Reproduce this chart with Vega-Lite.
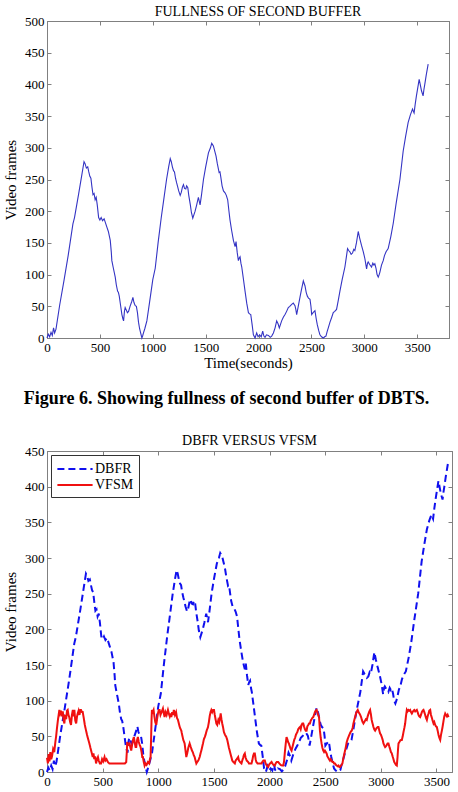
{
  "$schema": "https://vega.github.io/schema/vega-lite/v6.json",
  "background": "white",
  "padding": {"left": 3, "top": 4, "right": 0, "bottom": 0},
  "spacing": 25,
  "resolve": {
    "scale": {"color": "independent", "strokeDash": "independent"},
    "legend": {"color": "independent", "strokeDash": "independent"}
  },
  "config": {
    "font": "Liberation Serif",
    "view": {"stroke": "#808080", "strokeWidth": 1},
    "axis": {
      "domainColor": "#808080",
      "tickColor": "#808080",
      "tickSize": -4,
      "labelPadding": 7,
      "labelFont": "Liberation Serif",
      "labelFontSize": 13,
      "labelColor": "#000000",
      "labelFlush": false,
      "titleFont": "Liberation Serif",
      "titleFontSize": 15,
      "titleFontWeight": "normal",
      "titleColor": "#000000",
      "grid": false
    },
    "axisX": {"titlePadding": 1, "format": "d"},
    "axisY": {"titlePadding": 6},
    "title": {"font": "Liberation Serif", "fontWeight": "normal", "color": "#000000"},
    "legend": {
      "orient": "top-left",
      "offset": 4,
      "padding": 5,
      "strokeColor": "#333333",
      "fillColor": "#ffffff",
      "labelFont": "Liberation Serif",
      "labelFontSize": 14,
      "labelColor": "#000000",
      "symbolType": "M-2.2,0H2.2",
      "symbolSize": 256,
      "symbolStrokeWidth": 2,
      "symbolOffset": 10,
      "labelOffset": 11,
      "rowPadding": 0
    }
  },
  "datasets": {
    "buffer": [
      {"series": "DBFR", "t": 0, "v": 0}, {"series": "DBFR", "t": 12, "v": 6}, {"series": "DBFR", "t": 25, "v": 2}, {"series": "DBFR", "t": 38, "v": 9}, {"series": "DBFR", "t": 50, "v": 4}, {"series": "DBFR", "t": 62, "v": 16}, {"series": "DBFR", "t": 72, "v": 8}, {"series": "DBFR", "t": 85, "v": 14},
      {"series": "DBFR", "t": 120, "v": 52}, {"series": "DBFR", "t": 160, "v": 90}, {"series": "DBFR", "t": 200, "v": 130}, {"series": "DBFR", "t": 245, "v": 180}, {"series": "DBFR", "t": 260, "v": 190}, {"series": "DBFR", "t": 300, "v": 228}, {"series": "DBFR", "t": 330, "v": 258}, {"series": "DBFR", "t": 350, "v": 278},
      {"series": "DBFR", "t": 360, "v": 275}, {"series": "DBFR", "t": 372, "v": 268}, {"series": "DBFR", "t": 385, "v": 270}, {"series": "DBFR", "t": 395, "v": 262}, {"series": "DBFR", "t": 405, "v": 255}, {"series": "DBFR", "t": 415, "v": 252}, {"series": "DBFR", "t": 425, "v": 238}, {"series": "DBFR", "t": 435, "v": 226},
      {"series": "DBFR", "t": 445, "v": 228}, {"series": "DBFR", "t": 455, "v": 218}, {"series": "DBFR", "t": 465, "v": 222}, {"series": "DBFR", "t": 475, "v": 210}, {"series": "DBFR", "t": 488, "v": 190}, {"series": "DBFR", "t": 500, "v": 186}, {"series": "DBFR", "t": 512, "v": 190}, {"series": "DBFR", "t": 525, "v": 185},
      {"series": "DBFR", "t": 540, "v": 188}, {"series": "DBFR", "t": 552, "v": 182}, {"series": "DBFR", "t": 566, "v": 175}, {"series": "DBFR", "t": 580, "v": 168}, {"series": "DBFR", "t": 598, "v": 154}, {"series": "DBFR", "t": 608, "v": 135}, {"series": "DBFR", "t": 613, "v": 122}, {"series": "DBFR", "t": 625, "v": 112},
      {"series": "DBFR", "t": 645, "v": 96}, {"series": "DBFR", "t": 655, "v": 84}, {"series": "DBFR", "t": 667, "v": 74}, {"series": "DBFR", "t": 675, "v": 72}, {"series": "DBFR", "t": 683, "v": 66}, {"series": "DBFR", "t": 695, "v": 52}, {"series": "DBFR", "t": 708, "v": 37}, {"series": "DBFR", "t": 718, "v": 30},
      {"series": "DBFR", "t": 724, "v": 27}, {"series": "DBFR", "t": 732, "v": 42}, {"series": "DBFR", "t": 739, "v": 48}, {"series": "DBFR", "t": 750, "v": 44}, {"series": "DBFR", "t": 760, "v": 40}, {"series": "DBFR", "t": 771, "v": 42}, {"series": "DBFR", "t": 785, "v": 50}, {"series": "DBFR", "t": 802, "v": 58},
      {"series": "DBFR", "t": 812, "v": 64}, {"series": "DBFR", "t": 822, "v": 56}, {"series": "DBFR", "t": 834, "v": 51}, {"series": "DBFR", "t": 845, "v": 50}, {"series": "DBFR", "t": 855, "v": 40}, {"series": "DBFR", "t": 865, "v": 25}, {"series": "DBFR", "t": 875, "v": 15}, {"series": "DBFR", "t": 885, "v": 8},
      {"series": "DBFR", "t": 897, "v": 0}, {"series": "DBFR", "t": 905, "v": 4}, {"series": "DBFR", "t": 912, "v": 8}, {"series": "DBFR", "t": 925, "v": 15}, {"series": "DBFR", "t": 944, "v": 27}, {"series": "DBFR", "t": 970, "v": 57}, {"series": "DBFR", "t": 1000, "v": 92}, {"series": "DBFR", "t": 1023, "v": 110},
      {"series": "DBFR", "t": 1050, "v": 150}, {"series": "DBFR", "t": 1080, "v": 190}, {"series": "DBFR", "t": 1101, "v": 215}, {"series": "DBFR", "t": 1130, "v": 250}, {"series": "DBFR", "t": 1150, "v": 270}, {"series": "DBFR", "t": 1165, "v": 283}, {"series": "DBFR", "t": 1175, "v": 278}, {"series": "DBFR", "t": 1185, "v": 270},
      {"series": "DBFR", "t": 1196, "v": 264}, {"series": "DBFR", "t": 1205, "v": 262}, {"series": "DBFR", "t": 1215, "v": 252}, {"series": "DBFR", "t": 1225, "v": 245}, {"series": "DBFR", "t": 1233, "v": 240}, {"series": "DBFR", "t": 1245, "v": 232}, {"series": "DBFR", "t": 1259, "v": 225}, {"series": "DBFR", "t": 1270, "v": 230},
      {"series": "DBFR", "t": 1280, "v": 238}, {"series": "DBFR", "t": 1290, "v": 242}, {"series": "DBFR", "t": 1300, "v": 236}, {"series": "DBFR", "t": 1312, "v": 235}, {"series": "DBFR", "t": 1320, "v": 240}, {"series": "DBFR", "t": 1331, "v": 237}, {"series": "DBFR", "t": 1340, "v": 225}, {"series": "DBFR", "t": 1355, "v": 210},
      {"series": "DBFR", "t": 1365, "v": 198}, {"series": "DBFR", "t": 1378, "v": 189}, {"series": "DBFR", "t": 1390, "v": 195}, {"series": "DBFR", "t": 1400, "v": 200}, {"series": "DBFR", "t": 1415, "v": 210}, {"series": "DBFR", "t": 1431, "v": 222}, {"series": "DBFR", "t": 1440, "v": 215}, {"series": "DBFR", "t": 1447, "v": 210},
      {"series": "DBFR", "t": 1460, "v": 225}, {"series": "DBFR", "t": 1479, "v": 250}, {"series": "DBFR", "t": 1500, "v": 270}, {"series": "DBFR", "t": 1526, "v": 292}, {"series": "DBFR", "t": 1545, "v": 300}, {"series": "DBFR", "t": 1557, "v": 307}, {"series": "DBFR", "t": 1565, "v": 305}, {"series": "DBFR", "t": 1573, "v": 303},
      {"series": "DBFR", "t": 1585, "v": 295}, {"series": "DBFR", "t": 1598, "v": 287}, {"series": "DBFR", "t": 1610, "v": 275}, {"series": "DBFR", "t": 1627, "v": 261}, {"series": "DBFR", "t": 1635, "v": 262}, {"series": "DBFR", "t": 1642, "v": 255}, {"series": "DBFR", "t": 1655, "v": 240}, {"series": "DBFR", "t": 1668, "v": 232},
      {"series": "DBFR", "t": 1683, "v": 229}, {"series": "DBFR", "t": 1695, "v": 225}, {"series": "DBFR", "t": 1708, "v": 218}, {"series": "DBFR", "t": 1720, "v": 200}, {"series": "DBFR", "t": 1730, "v": 186}, {"series": "DBFR", "t": 1745, "v": 170}, {"series": "DBFR", "t": 1762, "v": 154}, {"series": "DBFR", "t": 1778, "v": 144},
      {"series": "DBFR", "t": 1787, "v": 152}, {"series": "DBFR", "t": 1798, "v": 135}, {"series": "DBFR", "t": 1809, "v": 122}, {"series": "DBFR", "t": 1817, "v": 126}, {"series": "DBFR", "t": 1825, "v": 128}, {"series": "DBFR", "t": 1833, "v": 118}, {"series": "DBFR", "t": 1841, "v": 112}, {"series": "DBFR", "t": 1855, "v": 95},
      {"series": "DBFR", "t": 1872, "v": 74}, {"series": "DBFR", "t": 1888, "v": 55}, {"series": "DBFR", "t": 1904, "v": 40}, {"series": "DBFR", "t": 1915, "v": 38}, {"series": "DBFR", "t": 1926, "v": 37}, {"series": "DBFR", "t": 1940, "v": 20}, {"series": "DBFR", "t": 1951, "v": 5}, {"series": "DBFR", "t": 1967, "v": 0},
      {"series": "DBFR", "t": 1982, "v": 8}, {"series": "DBFR", "t": 1995, "v": 2}, {"series": "DBFR", "t": 2010, "v": 5}, {"series": "DBFR", "t": 2025, "v": 2}, {"series": "DBFR", "t": 2039, "v": 11}, {"series": "DBFR", "t": 2050, "v": 3}, {"series": "DBFR", "t": 2061, "v": 1}, {"series": "DBFR", "t": 2075, "v": 5},
      {"series": "DBFR", "t": 2093, "v": 4}, {"series": "DBFR", "t": 2110, "v": 1}, {"series": "DBFR", "t": 2124, "v": 3}, {"series": "DBFR", "t": 2140, "v": 8}, {"series": "DBFR", "t": 2156, "v": 16}, {"series": "DBFR", "t": 2171, "v": 27}, {"series": "DBFR", "t": 2185, "v": 22}, {"series": "DBFR", "t": 2196, "v": 16},
      {"series": "DBFR", "t": 2208, "v": 22}, {"series": "DBFR", "t": 2218, "v": 27}, {"series": "DBFR", "t": 2235, "v": 33}, {"series": "DBFR", "t": 2250, "v": 37}, {"series": "DBFR", "t": 2265, "v": 42}, {"series": "DBFR", "t": 2281, "v": 48}, {"series": "DBFR", "t": 2295, "v": 50}, {"series": "DBFR", "t": 2313, "v": 53},
      {"series": "DBFR", "t": 2328, "v": 55}, {"series": "DBFR", "t": 2344, "v": 51}, {"series": "DBFR", "t": 2352, "v": 45}, {"series": "DBFR", "t": 2360, "v": 37}, {"series": "DBFR", "t": 2375, "v": 50}, {"series": "DBFR", "t": 2391, "v": 64}, {"series": "DBFR", "t": 2405, "v": 76}, {"series": "DBFR", "t": 2423, "v": 90},
      {"series": "DBFR", "t": 2431, "v": 86}, {"series": "DBFR", "t": 2439, "v": 82}, {"series": "DBFR", "t": 2450, "v": 72}, {"series": "DBFR", "t": 2461, "v": 66}, {"series": "DBFR", "t": 2472, "v": 63}, {"series": "DBFR", "t": 2486, "v": 61}, {"series": "DBFR", "t": 2495, "v": 50}, {"series": "DBFR", "t": 2502, "v": 37},
      {"series": "DBFR", "t": 2515, "v": 40}, {"series": "DBFR", "t": 2533, "v": 43}, {"series": "DBFR", "t": 2545, "v": 30}, {"series": "DBFR", "t": 2555, "v": 21}, {"series": "DBFR", "t": 2568, "v": 12}, {"series": "DBFR", "t": 2580, "v": 5}, {"series": "DBFR", "t": 2595, "v": 2}, {"series": "DBFR", "t": 2612, "v": 0},
      {"series": "DBFR", "t": 2625, "v": 2}, {"series": "DBFR", "t": 2637, "v": 3}, {"series": "DBFR", "t": 2648, "v": 10}, {"series": "DBFR", "t": 2659, "v": 16}, {"series": "DBFR", "t": 2675, "v": 25}, {"series": "DBFR", "t": 2690, "v": 32}, {"series": "DBFR", "t": 2706, "v": 40}, {"series": "DBFR", "t": 2720, "v": 42},
      {"series": "DBFR", "t": 2737, "v": 45}, {"series": "DBFR", "t": 2752, "v": 58}, {"series": "DBFR", "t": 2769, "v": 74}, {"series": "DBFR", "t": 2790, "v": 92}, {"series": "DBFR", "t": 2816, "v": 112}, {"series": "DBFR", "t": 2830, "v": 128}, {"series": "DBFR", "t": 2841, "v": 141}, {"series": "DBFR", "t": 2852, "v": 138},
      {"series": "DBFR", "t": 2863, "v": 136}, {"series": "DBFR", "t": 2875, "v": 132}, {"series": "DBFR", "t": 2888, "v": 134}, {"series": "DBFR", "t": 2900, "v": 140}, {"series": "DBFR", "t": 2910, "v": 138}, {"series": "DBFR", "t": 2925, "v": 150}, {"series": "DBFR", "t": 2942, "v": 168}, {"series": "DBFR", "t": 2955, "v": 158},
      {"series": "DBFR", "t": 2973, "v": 146}, {"series": "DBFR", "t": 2990, "v": 136}, {"series": "DBFR", "t": 3005, "v": 125}, {"series": "DBFR", "t": 3015, "v": 115}, {"series": "DBFR", "t": 3021, "v": 109}, {"series": "DBFR", "t": 3030, "v": 118}, {"series": "DBFR", "t": 3036, "v": 120}, {"series": "DBFR", "t": 3050, "v": 116},
      {"series": "DBFR", "t": 3068, "v": 112}, {"series": "DBFR", "t": 3080, "v": 118}, {"series": "DBFR", "t": 3090, "v": 115}, {"series": "DBFR", "t": 3099, "v": 117}, {"series": "DBFR", "t": 3110, "v": 110}, {"series": "DBFR", "t": 3120, "v": 100}, {"series": "DBFR", "t": 3131, "v": 96}, {"series": "DBFR", "t": 3140, "v": 100},
      {"series": "DBFR", "t": 3147, "v": 104}, {"series": "DBFR", "t": 3162, "v": 115}, {"series": "DBFR", "t": 3178, "v": 122}, {"series": "DBFR", "t": 3190, "v": 130}, {"series": "DBFR", "t": 3205, "v": 136}, {"series": "DBFR", "t": 3225, "v": 141}, {"series": "DBFR", "t": 3250, "v": 160}, {"series": "DBFR", "t": 3273, "v": 181},
      {"series": "DBFR", "t": 3300, "v": 212}, {"series": "DBFR", "t": 3336, "v": 250}, {"series": "DBFR", "t": 3367, "v": 295}, {"series": "DBFR", "t": 3390, "v": 318}, {"series": "DBFR", "t": 3414, "v": 340}, {"series": "DBFR", "t": 3435, "v": 352}, {"series": "DBFR", "t": 3455, "v": 361}, {"series": "DBFR", "t": 3462, "v": 358},
      {"series": "DBFR", "t": 3470, "v": 355}, {"series": "DBFR", "t": 3480, "v": 368}, {"series": "DBFR", "t": 3492, "v": 382}, {"series": "DBFR", "t": 3505, "v": 395}, {"series": "DBFR", "t": 3518, "v": 408}, {"series": "DBFR", "t": 3528, "v": 400}, {"series": "DBFR", "t": 3540, "v": 390}, {"series": "DBFR", "t": 3555, "v": 382},
      {"series": "DBFR", "t": 3563, "v": 392}, {"series": "DBFR", "t": 3571, "v": 400}, {"series": "DBFR", "t": 3585, "v": 415}, {"series": "DBFR", "t": 3603, "v": 432},

      {"series": "VFSM", "t": 0, "v": 20}, {"series": "VFSM", "t": 8, "v": 12}, {"series": "VFSM", "t": 15, "v": 25}, {"series": "VFSM", "t": 22, "v": 15}, {"series": "VFSM", "t": 30, "v": 28}, {"series": "VFSM", "t": 38, "v": 18}, {"series": "VFSM", "t": 45, "v": 22}, {"series": "VFSM", "t": 55, "v": 32},
      {"series": "VFSM", "t": 65, "v": 28}, {"series": "VFSM", "t": 75, "v": 42}, {"series": "VFSM", "t": 82, "v": 50}, {"series": "VFSM", "t": 90, "v": 62}, {"series": "VFSM", "t": 100, "v": 75}, {"series": "VFSM", "t": 111, "v": 87}, {"series": "VFSM", "t": 118, "v": 82}, {"series": "VFSM", "t": 126, "v": 86},
      {"series": "VFSM", "t": 135, "v": 78}, {"series": "VFSM", "t": 142, "v": 85}, {"series": "VFSM", "t": 150, "v": 72}, {"series": "VFSM", "t": 156, "v": 68}, {"series": "VFSM", "t": 163, "v": 80}, {"series": "VFSM", "t": 172, "v": 74}, {"series": "VFSM", "t": 180, "v": 86}, {"series": "VFSM", "t": 186, "v": 87},
      {"series": "VFSM", "t": 193, "v": 80}, {"series": "VFSM", "t": 200, "v": 77}, {"series": "VFSM", "t": 208, "v": 70}, {"series": "VFSM", "t": 216, "v": 66}, {"series": "VFSM", "t": 224, "v": 80}, {"series": "VFSM", "t": 232, "v": 87}, {"series": "VFSM", "t": 240, "v": 78}, {"series": "VFSM", "t": 246, "v": 87},
      {"series": "VFSM", "t": 254, "v": 72}, {"series": "VFSM", "t": 262, "v": 68}, {"series": "VFSM", "t": 270, "v": 78}, {"series": "VFSM", "t": 276, "v": 82}, {"series": "VFSM", "t": 284, "v": 86}, {"series": "VFSM", "t": 292, "v": 80}, {"series": "VFSM", "t": 300, "v": 87}, {"series": "VFSM", "t": 306, "v": 87},
      {"series": "VFSM", "t": 314, "v": 84}, {"series": "VFSM", "t": 321, "v": 84}, {"series": "VFSM", "t": 330, "v": 76}, {"series": "VFSM", "t": 340, "v": 66}, {"series": "VFSM", "t": 351, "v": 58}, {"series": "VFSM", "t": 360, "v": 52}, {"series": "VFSM", "t": 370, "v": 46}, {"series": "VFSM", "t": 381, "v": 40},
      {"series": "VFSM", "t": 390, "v": 34}, {"series": "VFSM", "t": 400, "v": 28}, {"series": "VFSM", "t": 411, "v": 21}, {"series": "VFSM", "t": 418, "v": 26}, {"series": "VFSM", "t": 425, "v": 18}, {"series": "VFSM", "t": 433, "v": 22}, {"series": "VFSM", "t": 441, "v": 12}, {"series": "VFSM", "t": 450, "v": 18},
      {"series": "VFSM", "t": 458, "v": 21}, {"series": "VFSM", "t": 465, "v": 16}, {"series": "VFSM", "t": 475, "v": 12}, {"series": "VFSM", "t": 486, "v": 12}, {"series": "VFSM", "t": 495, "v": 18}, {"series": "VFSM", "t": 505, "v": 15}, {"series": "VFSM", "t": 517, "v": 21}, {"series": "VFSM", "t": 525, "v": 16},
      {"series": "VFSM", "t": 535, "v": 18}, {"series": "VFSM", "t": 547, "v": 14}, {"series": "VFSM", "t": 560, "v": 12}, {"series": "VFSM", "t": 577, "v": 12}, {"series": "VFSM", "t": 590, "v": 12}, {"series": "VFSM", "t": 607, "v": 12}, {"series": "VFSM", "t": 620, "v": 12}, {"series": "VFSM", "t": 640, "v": 12},
      {"series": "VFSM", "t": 660, "v": 12}, {"series": "VFSM", "t": 680, "v": 12}, {"series": "VFSM", "t": 700, "v": 12}, {"series": "VFSM", "t": 712, "v": 14}, {"series": "VFSM", "t": 718, "v": 30}, {"series": "VFSM", "t": 721, "v": 42}, {"series": "VFSM", "t": 730, "v": 38}, {"series": "VFSM", "t": 742, "v": 40},
      {"series": "VFSM", "t": 750, "v": 34}, {"series": "VFSM", "t": 757, "v": 30}, {"series": "VFSM", "t": 765, "v": 38}, {"series": "VFSM", "t": 773, "v": 45}, {"series": "VFSM", "t": 781, "v": 49}, {"series": "VFSM", "t": 790, "v": 40}, {"series": "VFSM", "t": 796, "v": 35}, {"series": "VFSM", "t": 802, "v": 35},
      {"series": "VFSM", "t": 810, "v": 45}, {"series": "VFSM", "t": 817, "v": 49}, {"series": "VFSM", "t": 825, "v": 42}, {"series": "VFSM", "t": 833, "v": 38}, {"series": "VFSM", "t": 841, "v": 35}, {"series": "VFSM", "t": 850, "v": 28}, {"series": "VFSM", "t": 856, "v": 21}, {"series": "VFSM", "t": 862, "v": 21},
      {"series": "VFSM", "t": 870, "v": 14}, {"series": "VFSM", "t": 877, "v": 9}, {"series": "VFSM", "t": 885, "v": 12}, {"series": "VFSM", "t": 895, "v": 10}, {"series": "VFSM", "t": 907, "v": 14}, {"series": "VFSM", "t": 918, "v": 12}, {"series": "VFSM", "t": 925, "v": 18}, {"series": "VFSM", "t": 931, "v": 21},
      {"series": "VFSM", "t": 936, "v": 50}, {"series": "VFSM", "t": 940, "v": 75}, {"series": "VFSM", "t": 943, "v": 87}, {"series": "VFSM", "t": 950, "v": 84}, {"series": "VFSM", "t": 958, "v": 87}, {"series": "VFSM", "t": 965, "v": 78}, {"series": "VFSM", "t": 973, "v": 70}, {"series": "VFSM", "t": 982, "v": 66},
      {"series": "VFSM", "t": 990, "v": 75}, {"series": "VFSM", "t": 997, "v": 82}, {"series": "VFSM", "t": 1005, "v": 87}, {"series": "VFSM", "t": 1012, "v": 87}, {"series": "VFSM", "t": 1020, "v": 80}, {"series": "VFSM", "t": 1030, "v": 84}, {"series": "VFSM", "t": 1042, "v": 89}, {"series": "VFSM", "t": 1050, "v": 82},
      {"series": "VFSM", "t": 1057, "v": 77}, {"series": "VFSM", "t": 1065, "v": 84}, {"series": "VFSM", "t": 1075, "v": 80}, {"series": "VFSM", "t": 1087, "v": 87}, {"series": "VFSM", "t": 1095, "v": 82}, {"series": "VFSM", "t": 1103, "v": 78}, {"series": "VFSM", "t": 1110, "v": 82}, {"series": "VFSM", "t": 1117, "v": 77},
      {"series": "VFSM", "t": 1125, "v": 84}, {"series": "VFSM", "t": 1133, "v": 80}, {"series": "VFSM", "t": 1140, "v": 87}, {"series": "VFSM", "t": 1150, "v": 80}, {"series": "VFSM", "t": 1160, "v": 84}, {"series": "VFSM", "t": 1168, "v": 76}, {"series": "VFSM", "t": 1177, "v": 73}, {"series": "VFSM", "t": 1185, "v": 68},
      {"series": "VFSM", "t": 1195, "v": 62}, {"series": "VFSM", "t": 1207, "v": 58}, {"series": "VFSM", "t": 1215, "v": 52}, {"series": "VFSM", "t": 1225, "v": 45}, {"series": "VFSM", "t": 1237, "v": 40}, {"series": "VFSM", "t": 1245, "v": 30}, {"series": "VFSM", "t": 1252, "v": 21}, {"series": "VFSM", "t": 1260, "v": 26},
      {"series": "VFSM", "t": 1270, "v": 34}, {"series": "VFSM", "t": 1282, "v": 40}, {"series": "VFSM", "t": 1290, "v": 36}, {"series": "VFSM", "t": 1303, "v": 30}, {"series": "VFSM", "t": 1310, "v": 28}, {"series": "VFSM", "t": 1318, "v": 24}, {"series": "VFSM", "t": 1327, "v": 21}, {"series": "VFSM", "t": 1335, "v": 16},
      {"series": "VFSM", "t": 1342, "v": 12}, {"series": "VFSM", "t": 1350, "v": 14}, {"series": "VFSM", "t": 1360, "v": 16}, {"series": "VFSM", "t": 1372, "v": 21}, {"series": "VFSM", "t": 1380, "v": 26}, {"series": "VFSM", "t": 1390, "v": 32}, {"series": "VFSM", "t": 1402, "v": 40}, {"series": "VFSM", "t": 1410, "v": 46},
      {"series": "VFSM", "t": 1418, "v": 49}, {"series": "VFSM", "t": 1425, "v": 52}, {"series": "VFSM", "t": 1435, "v": 58}, {"series": "VFSM", "t": 1447, "v": 63}, {"series": "VFSM", "t": 1455, "v": 70}, {"series": "VFSM", "t": 1462, "v": 78}, {"series": "VFSM", "t": 1470, "v": 84}, {"series": "VFSM", "t": 1477, "v": 87},
      {"series": "VFSM", "t": 1485, "v": 84}, {"series": "VFSM", "t": 1493, "v": 87}, {"series": "VFSM", "t": 1501, "v": 87}, {"series": "VFSM", "t": 1508, "v": 80}, {"series": "VFSM", "t": 1515, "v": 74}, {"series": "VFSM", "t": 1522, "v": 68}, {"series": "VFSM", "t": 1530, "v": 66}, {"series": "VFSM", "t": 1540, "v": 73},
      {"series": "VFSM", "t": 1548, "v": 70}, {"series": "VFSM", "t": 1555, "v": 76}, {"series": "VFSM", "t": 1561, "v": 82}, {"series": "VFSM", "t": 1568, "v": 74}, {"series": "VFSM", "t": 1575, "v": 68}, {"series": "VFSM", "t": 1582, "v": 63}, {"series": "VFSM", "t": 1590, "v": 56}, {"series": "VFSM", "t": 1600, "v": 52},
      {"series": "VFSM", "t": 1612, "v": 49}, {"series": "VFSM", "t": 1620, "v": 45}, {"series": "VFSM", "t": 1627, "v": 40}, {"series": "VFSM", "t": 1635, "v": 34}, {"series": "VFSM", "t": 1645, "v": 28}, {"series": "VFSM", "t": 1657, "v": 21}, {"series": "VFSM", "t": 1665, "v": 16}, {"series": "VFSM", "t": 1675, "v": 14},
      {"series": "VFSM", "t": 1688, "v": 12}, {"series": "VFSM", "t": 1695, "v": 16}, {"series": "VFSM", "t": 1705, "v": 18}, {"series": "VFSM", "t": 1718, "v": 21}, {"series": "VFSM", "t": 1725, "v": 16}, {"series": "VFSM", "t": 1735, "v": 14}, {"series": "VFSM", "t": 1748, "v": 12}, {"series": "VFSM", "t": 1755, "v": 16},
      {"series": "VFSM", "t": 1763, "v": 20}, {"series": "VFSM", "t": 1770, "v": 24}, {"series": "VFSM", "t": 1778, "v": 26}, {"series": "VFSM", "t": 1785, "v": 20}, {"series": "VFSM", "t": 1795, "v": 16}, {"series": "VFSM", "t": 1808, "v": 14}, {"series": "VFSM", "t": 1815, "v": 12}, {"series": "VFSM", "t": 1825, "v": 12},
      {"series": "VFSM", "t": 1838, "v": 12}, {"series": "VFSM", "t": 1845, "v": 16}, {"series": "VFSM", "t": 1852, "v": 22}, {"series": "VFSM", "t": 1860, "v": 26}, {"series": "VFSM", "t": 1868, "v": 26}, {"series": "VFSM", "t": 1875, "v": 18}, {"series": "VFSM", "t": 1882, "v": 14}, {"series": "VFSM", "t": 1892, "v": 12},
      {"series": "VFSM", "t": 1905, "v": 12}, {"series": "VFSM", "t": 1918, "v": 12}, {"series": "VFSM", "t": 1928, "v": 12}, {"series": "VFSM", "t": 1935, "v": 14}, {"series": "VFSM", "t": 1945, "v": 16}, {"series": "VFSM", "t": 1958, "v": 16}, {"series": "VFSM", "t": 1965, "v": 12}, {"series": "VFSM", "t": 1975, "v": 9},
      {"series": "VFSM", "t": 1988, "v": 7}, {"series": "VFSM", "t": 1995, "v": 10}, {"series": "VFSM", "t": 2005, "v": 12}, {"series": "VFSM", "t": 2018, "v": 14}, {"series": "VFSM", "t": 2025, "v": 12}, {"series": "VFSM", "t": 2035, "v": 10}, {"series": "VFSM", "t": 2048, "v": 9}, {"series": "VFSM", "t": 2055, "v": 12},
      {"series": "VFSM", "t": 2065, "v": 14}, {"series": "VFSM", "t": 2078, "v": 14}, {"series": "VFSM", "t": 2088, "v": 12}, {"series": "VFSM", "t": 2100, "v": 10}, {"series": "VFSM", "t": 2112, "v": 9}, {"series": "VFSM", "t": 2123, "v": 9}, {"series": "VFSM", "t": 2130, "v": 14}, {"series": "VFSM", "t": 2138, "v": 28},
      {"series": "VFSM", "t": 2146, "v": 40}, {"series": "VFSM", "t": 2153, "v": 49}, {"series": "VFSM", "t": 2160, "v": 46}, {"series": "VFSM", "t": 2167, "v": 42}, {"series": "VFSM", "t": 2174, "v": 40}, {"series": "VFSM", "t": 2182, "v": 36}, {"series": "VFSM", "t": 2190, "v": 32}, {"series": "VFSM", "t": 2198, "v": 30},
      {"series": "VFSM", "t": 2206, "v": 35}, {"series": "VFSM", "t": 2214, "v": 40}, {"series": "VFSM", "t": 2222, "v": 45}, {"series": "VFSM", "t": 2230, "v": 48}, {"series": "VFSM", "t": 2237, "v": 52}, {"series": "VFSM", "t": 2243, "v": 54}, {"series": "VFSM", "t": 2250, "v": 56}, {"series": "VFSM", "t": 2258, "v": 60},
      {"series": "VFSM", "t": 2266, "v": 62}, {"series": "VFSM", "t": 2273, "v": 63}, {"series": "VFSM", "t": 2280, "v": 60}, {"series": "VFSM", "t": 2288, "v": 66}, {"series": "VFSM", "t": 2295, "v": 68}, {"series": "VFSM", "t": 2303, "v": 68}, {"series": "VFSM", "t": 2310, "v": 64}, {"series": "VFSM", "t": 2318, "v": 60},
      {"series": "VFSM", "t": 2325, "v": 58}, {"series": "VFSM", "t": 2333, "v": 58}, {"series": "VFSM", "t": 2340, "v": 64}, {"series": "VFSM", "t": 2348, "v": 66}, {"series": "VFSM", "t": 2355, "v": 68}, {"series": "VFSM", "t": 2363, "v": 68}, {"series": "VFSM", "t": 2370, "v": 72}, {"series": "VFSM", "t": 2378, "v": 74},
      {"series": "VFSM", "t": 2385, "v": 76}, {"series": "VFSM", "t": 2393, "v": 77}, {"series": "VFSM", "t": 2400, "v": 80}, {"series": "VFSM", "t": 2408, "v": 84}, {"series": "VFSM", "t": 2415, "v": 86}, {"series": "VFSM", "t": 2423, "v": 87}, {"series": "VFSM", "t": 2430, "v": 84}, {"series": "VFSM", "t": 2437, "v": 80},
      {"series": "VFSM", "t": 2445, "v": 77}, {"series": "VFSM", "t": 2453, "v": 58}, {"series": "VFSM", "t": 2460, "v": 48}, {"series": "VFSM", "t": 2468, "v": 40}, {"series": "VFSM", "t": 2475, "v": 34}, {"series": "VFSM", "t": 2483, "v": 30}, {"series": "VFSM", "t": 2490, "v": 28}, {"series": "VFSM", "t": 2498, "v": 30},
      {"series": "VFSM", "t": 2506, "v": 28}, {"series": "VFSM", "t": 2513, "v": 26}, {"series": "VFSM", "t": 2520, "v": 22}, {"series": "VFSM", "t": 2528, "v": 20}, {"series": "VFSM", "t": 2535, "v": 18}, {"series": "VFSM", "t": 2543, "v": 16}, {"series": "VFSM", "t": 2550, "v": 18}, {"series": "VFSM", "t": 2558, "v": 16},
      {"series": "VFSM", "t": 2565, "v": 14}, {"series": "VFSM", "t": 2573, "v": 14}, {"series": "VFSM", "t": 2580, "v": 12}, {"series": "VFSM", "t": 2588, "v": 12}, {"series": "VFSM", "t": 2596, "v": 10}, {"series": "VFSM", "t": 2604, "v": 9}, {"series": "VFSM", "t": 2612, "v": 8}, {"series": "VFSM", "t": 2620, "v": 9},
      {"series": "VFSM", "t": 2628, "v": 7}, {"series": "VFSM", "t": 2634, "v": 7}, {"series": "VFSM", "t": 2642, "v": 9}, {"series": "VFSM", "t": 2648, "v": 10}, {"series": "VFSM", "t": 2655, "v": 12}, {"series": "VFSM", "t": 2662, "v": 18}, {"series": "VFSM", "t": 2670, "v": 24}, {"series": "VFSM", "t": 2679, "v": 30},
      {"series": "VFSM", "t": 2687, "v": 36}, {"series": "VFSM", "t": 2694, "v": 42}, {"series": "VFSM", "t": 2702, "v": 46}, {"series": "VFSM", "t": 2709, "v": 49}, {"series": "VFSM", "t": 2717, "v": 52}, {"series": "VFSM", "t": 2725, "v": 55}, {"series": "VFSM", "t": 2732, "v": 57}, {"series": "VFSM", "t": 2739, "v": 58},
      {"series": "VFSM", "t": 2747, "v": 62}, {"series": "VFSM", "t": 2754, "v": 68}, {"series": "VFSM", "t": 2762, "v": 73}, {"series": "VFSM", "t": 2769, "v": 77}, {"series": "VFSM", "t": 2777, "v": 82}, {"series": "VFSM", "t": 2785, "v": 85}, {"series": "VFSM", "t": 2793, "v": 87}, {"series": "VFSM", "t": 2800, "v": 84},
      {"series": "VFSM", "t": 2808, "v": 82}, {"series": "VFSM", "t": 2815, "v": 80}, {"series": "VFSM", "t": 2823, "v": 77}, {"series": "VFSM", "t": 2830, "v": 73}, {"series": "VFSM", "t": 2837, "v": 70}, {"series": "VFSM", "t": 2844, "v": 68}, {"series": "VFSM", "t": 2852, "v": 70}, {"series": "VFSM", "t": 2859, "v": 72},
      {"series": "VFSM", "t": 2866, "v": 74}, {"series": "VFSM", "t": 2874, "v": 73}, {"series": "VFSM", "t": 2882, "v": 78}, {"series": "VFSM", "t": 2890, "v": 82}, {"series": "VFSM", "t": 2897, "v": 85}, {"series": "VFSM", "t": 2904, "v": 87}, {"series": "VFSM", "t": 2912, "v": 80}, {"series": "VFSM", "t": 2918, "v": 73},
      {"series": "VFSM", "t": 2926, "v": 68}, {"series": "VFSM", "t": 2934, "v": 63}, {"series": "VFSM", "t": 2941, "v": 60}, {"series": "VFSM", "t": 2949, "v": 58}, {"series": "VFSM", "t": 2956, "v": 60}, {"series": "VFSM", "t": 2964, "v": 62}, {"series": "VFSM", "t": 2972, "v": 63}, {"series": "VFSM", "t": 2979, "v": 63},
      {"series": "VFSM", "t": 2987, "v": 58}, {"series": "VFSM", "t": 2994, "v": 54}, {"series": "VFSM", "t": 3002, "v": 52}, {"series": "VFSM", "t": 3009, "v": 49}, {"series": "VFSM", "t": 3017, "v": 45}, {"series": "VFSM", "t": 3024, "v": 40}, {"series": "VFSM", "t": 3032, "v": 37}, {"series": "VFSM", "t": 3039, "v": 35},
      {"series": "VFSM", "t": 3046, "v": 36}, {"series": "VFSM", "t": 3054, "v": 38}, {"series": "VFSM", "t": 3061, "v": 40}, {"series": "VFSM", "t": 3069, "v": 40}, {"series": "VFSM", "t": 3076, "v": 36}, {"series": "VFSM", "t": 3084, "v": 32}, {"series": "VFSM", "t": 3091, "v": 28}, {"series": "VFSM", "t": 3099, "v": 26},
      {"series": "VFSM", "t": 3106, "v": 22}, {"series": "VFSM", "t": 3114, "v": 18}, {"series": "VFSM", "t": 3121, "v": 14}, {"series": "VFSM", "t": 3129, "v": 12}, {"series": "VFSM", "t": 3136, "v": 10}, {"series": "VFSM", "t": 3144, "v": 9}, {"series": "VFSM", "t": 3150, "v": 20}, {"series": "VFSM", "t": 3155, "v": 32},
      {"series": "VFSM", "t": 3159, "v": 40}, {"series": "VFSM", "t": 3167, "v": 42}, {"series": "VFSM", "t": 3174, "v": 44}, {"series": "VFSM", "t": 3182, "v": 45}, {"series": "VFSM", "t": 3189, "v": 45}, {"series": "VFSM", "t": 3197, "v": 50}, {"series": "VFSM", "t": 3204, "v": 56}, {"series": "VFSM", "t": 3212, "v": 62},
      {"series": "VFSM", "t": 3219, "v": 68}, {"series": "VFSM", "t": 3226, "v": 78}, {"series": "VFSM", "t": 3234, "v": 87}, {"series": "VFSM", "t": 3241, "v": 85}, {"series": "VFSM", "t": 3249, "v": 87}, {"series": "VFSM", "t": 3256, "v": 86}, {"series": "VFSM", "t": 3264, "v": 87}, {"series": "VFSM", "t": 3271, "v": 84},
      {"series": "VFSM", "t": 3279, "v": 82}, {"series": "VFSM", "t": 3286, "v": 84}, {"series": "VFSM", "t": 3294, "v": 86}, {"series": "VFSM", "t": 3301, "v": 87}, {"series": "VFSM", "t": 3309, "v": 85}, {"series": "VFSM", "t": 3316, "v": 86}, {"series": "VFSM", "t": 3324, "v": 87}, {"series": "VFSM", "t": 3331, "v": 84},
      {"series": "VFSM", "t": 3339, "v": 80}, {"series": "VFSM", "t": 3346, "v": 78}, {"series": "VFSM", "t": 3354, "v": 77}, {"series": "VFSM", "t": 3361, "v": 80}, {"series": "VFSM", "t": 3369, "v": 84}, {"series": "VFSM", "t": 3376, "v": 86}, {"series": "VFSM", "t": 3384, "v": 87}, {"series": "VFSM", "t": 3391, "v": 84},
      {"series": "VFSM", "t": 3399, "v": 80}, {"series": "VFSM", "t": 3406, "v": 76}, {"series": "VFSM", "t": 3414, "v": 73}, {"series": "VFSM", "t": 3421, "v": 78}, {"series": "VFSM", "t": 3429, "v": 82}, {"series": "VFSM", "t": 3436, "v": 86}, {"series": "VFSM", "t": 3444, "v": 87}, {"series": "VFSM", "t": 3451, "v": 80},
      {"series": "VFSM", "t": 3459, "v": 76}, {"series": "VFSM", "t": 3466, "v": 72}, {"series": "VFSM", "t": 3474, "v": 68}, {"series": "VFSM", "t": 3481, "v": 70}, {"series": "VFSM", "t": 3489, "v": 66}, {"series": "VFSM", "t": 3496, "v": 64}, {"series": "VFSM", "t": 3504, "v": 63}, {"series": "VFSM", "t": 3511, "v": 58},
      {"series": "VFSM", "t": 3519, "v": 52}, {"series": "VFSM", "t": 3526, "v": 48}, {"series": "VFSM", "t": 3534, "v": 45}, {"series": "VFSM", "t": 3541, "v": 52}, {"series": "VFSM", "t": 3549, "v": 58}, {"series": "VFSM", "t": 3556, "v": 64}, {"series": "VFSM", "t": 3564, "v": 72}, {"series": "VFSM", "t": 3571, "v": 78},
      {"series": "VFSM", "t": 3579, "v": 82}, {"series": "VFSM", "t": 3586, "v": 80}, {"series": "VFSM", "t": 3594, "v": 78}, {"series": "VFSM", "t": 3601, "v": 80}, {"series": "VFSM", "t": 3609, "v": 77}
    ]
  },
  "data": {"name": "buffer"},
  "vconcat": [
    {
      "title": {
        "text": "Figure 6. Showing fullness of second buffer of DBTS.",
        "orient": "bottom",
        "anchor": "middle",
        "frame": "bounds",
        "fontSize": 18,
        "fontWeight": "bold",
        "offset": 19
      },
      "vconcat": [
        {
          "width": 402,
          "height": 317,
          "title": {"text": "FULLNESS OF SECOND BUFFER", "fontSize": 14, "offset": -4, "dx": 10},
          "transform": [{"filter": "datum.series === 'DBFR'"}],
          "layer": [
            {
              "mark": {"type": "line", "color": "#3434c4", "strokeWidth": 1.1},
              "encoding": {
                "x": {"field": "t", "type": "quantitative", "scale": {"domain": [0, 3800], "nice": false},
                      "axis": {"orient": "bottom", "title": "Time(seconds)", "values": [0, 500, 1000, 1500, 2000, 2500, 3000, 3500]}},
                "y": {"field": "v", "type": "quantitative", "scale": {"domain": [0, 500], "nice": false},
                      "axis": {"orient": "left", "title": "Video frames", "values": [0, 50, 100, 150, 200, 250, 300, 350, 400, 450, 500]}}
              }
            },
            {
              "mark": {"type": "line", "strokeOpacity": 0},
              "encoding": {
                "x": {"field": "t", "type": "quantitative",
                      "axis": {"orient": "top", "title": null, "labels": false, "values": [0, 500, 1000, 1500, 2000, 2500, 3000, 3500]}},
                "y": {"field": "v", "type": "quantitative",
                      "axis": {"orient": "right", "title": null, "labels": false, "values": [0, 50, 100, 150, 200, 250, 300, 350, 400, 450, 500]}}
              }
            }
          ],
          "resolve": {"axis": {"x": "independent", "y": "independent"}}
        }
      ]
    },
    {
      "width": 405,
      "height": 321,
      "title": {"text": "DBFR VERSUS VFSM", "fontSize": 14, "offset": -3},
      "layer": [
        {
          "mark": {"type": "line", "strokeWidth": 2},
          "encoding": {
            "x": {"field": "t", "type": "quantitative", "scale": {"domain": [0, 3640], "nice": false},
                  "axis": {"orient": "bottom", "title": null, "values": [0, 500, 1000, 1500, 2000, 2500, 3000, 3500]}},
            "y": {"field": "v", "type": "quantitative", "scale": {"domain": [0, 450], "nice": false},
                  "axis": {"orient": "left", "title": "Video frames", "values": [0, 50, 100, 150, 200, 250, 300, 350, 400, 450]}},
            "color": {"field": "series", "type": "nominal",
                      "scale": {"domain": ["DBFR", "VFSM"], "range": ["#1010ee", "#f01010"]},
                      "legend": {"title": null}},
            "strokeDash": {"field": "series", "type": "nominal",
                           "scale": {"domain": ["DBFR", "VFSM"], "range": [[7, 4], [1, 0]]},
                           "legend": {"title": null}},
            "order": {"field": "series", "sort": "descending"}
          }
        },
        {
          "mark": {"type": "line", "strokeOpacity": 0},
          "encoding": {
            "x": {"field": "t", "type": "quantitative",
                  "axis": {"orient": "top", "title": null, "labels": false, "values": [0, 500, 1000, 1500, 2000, 2500, 3000, 3500]}},
            "y": {"field": "v", "type": "quantitative",
                  "axis": {"orient": "right", "title": null, "labels": false, "values": [0, 50, 100, 150, 200, 250, 300, 350, 400, 450]}},
            "detail": {"field": "series", "type": "nominal"}
          }
        }
      ],
      "resolve": {"axis": {"x": "independent", "y": "independent"}}
    }
  ]
}
